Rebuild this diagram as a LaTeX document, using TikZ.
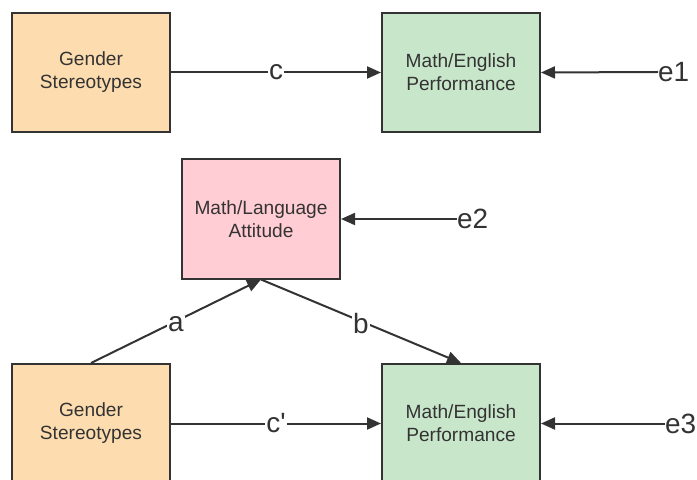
\documentclass[tikz,border=0pt]{standalone}
\usepackage{fontspec}
\setmainfont{Liberation Sans}
\usetikzlibrary{arrows.meta}
\definecolor{txt}{HTML}{333333}
\definecolor{orangefill}{HTML}{FDDDB0}
\definecolor{greenfill}{HTML}{C8E6CA}
\definecolor{pinkfill}{HTML}{FFCDD3}
\tikzset{
  box/.style={draw=txt, line width=2bp, minimum width=158bp, minimum height=119bp,
    align=center, text=txt, font=\fontsize{19.2}{23}\selectfont, inner sep=0pt},
  conn/.style={draw=txt, line width=2bp, -{Triangle[length=14bp,width=12bp]}},
  lab/.style={text=txt, font=\fontsize{28}{30}\selectfont, inner sep=0pt},
  mid/.style={text=txt, font=\fontsize{28}{30}\selectfont, fill=white, inner sep=1bp},
}
\begin{document}
\begin{tikzpicture}[x=1bp,y=-1bp]
\useasboundingbox (0,0) rectangle (697,480);
\clip (0,0) rectangle (697,480);
\node[box, fill=orangefill] (gs1) at (91,72.5) {Gender\\Stereotypes};
\node[box, fill=greenfill] (mep1) at (461,72.5) {Math/English\\Performance};
\node[box, fill=pinkfill] (mla) at (261,219) {Math/Language\\Attitude};
\node[box, fill=orangefill] (gs2) at (91,423.5) {Gender\\Stereotypes};
\node[box, fill=greenfill] (mep2) at (461,423.5) {Math/English\\Performance};
\node[lab, anchor=west] (e1) at (658,72) {e1};
\node[lab, anchor=west] (e2) at (457,219) {e2};
\node[lab, anchor=west] (e3) at (665,423.5) {e3};
\draw[conn] (gs1) -- node[mid] {c} (mep1);
\draw[conn] (e1.west) -- (mep1.east);
\draw[conn] (e2.west) -- (mla.east);
\draw[conn] (gs2.north) -- node[mid, yshift=-3bp] {a} (mla.south);
\draw[conn] (mla.south) -- node[mid, yshift=-2bp] {b} (mep2.north);
\draw[conn] (gs2) -- node[mid] {c\textquotesingle} (mep2);
\draw[conn] (e3.west) -- (mep2.east);
\end{tikzpicture}
\end{document}
